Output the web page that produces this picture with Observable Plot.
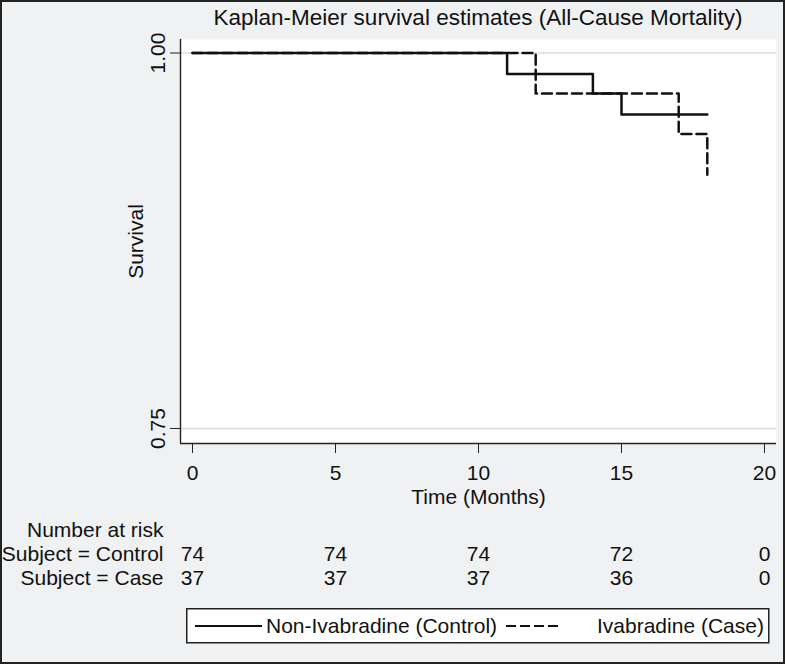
<!DOCTYPE html>
<html>
<head>
<meta charset="utf-8">
<script src="https://cdn.jsdelivr.net/npm/d3@7"></script>
<script src="https://cdn.jsdelivr.net/npm/@observablehq/plot@0.6"></script>
<style>
  html, body { margin: 0; padding: 0; }
  body { width: 785px; height: 664px; overflow: hidden; }
  #fig {
    position: relative; width: 785px; height: 664px;
    background: #eff1f3; box-shadow: inset 0 0 0 2px #222;
    font-family: "Liberation Sans", Arial, sans-serif; color: #111;
  }
  #title {
    position: absolute; left: 180px; top: 7px; width: 596px;
    text-align: center; font-size: 22.5px; line-height: 22.5px; white-space: nowrap;
  }
  #main { position: absolute; left: 0; top: 39px; }
  #risk { position: absolute; left: 0; top: 508px; }
  #legend { position: absolute; left: 186px; top: 608px; }
</style>
</head>
<body>
<div id="fig">
  <div id="title">Kaplan-Meier survival estimates (All-Cause Mortality)</div>
  <div id="main"></div>
  <div id="risk"></div>
  <div id="legend"></div>
</div>
<script>
// ---- data ----
const timeTicks = [0, 5, 10, 15, 20];
const survTicks = [0.75, 1.00];
const groups = ["Control", "Case"];
const seriesNames = ["Non-Ivabradine (Control)", "Ivabradine (Case)"];

const controlTime = [0, 11, 14, 15, 18];
const controlSurv = [1.000, 0.986, 0.973, 0.959, 0.959];
const caseTime = [0, 12, 17, 18];
const caseSurv = [1.000, 0.973, 0.946, 0.919];

const riskTime = [0, 5, 10, 15, 20];
const controlRisk = [74, 74, 74, 72, 0];
const caseRisk = [37, 37, 37, 36, 0];

// ---- build tables ----
const controlData = controlTime.map((t, i) => ({t, s: controlSurv[i]}));
const caseData = caseTime.map((t, i) => ({t, s: caseSurv[i]}));
const riskRows = [
  ...riskTime.map((t, i) => ({t, g: groups[0], n: controlRisk[i]})),
  ...riskTime.map((t, i) => ({t, g: groups[1], n: caseRisk[i]}))
];

const font = '"Liberation Sans", Arial, sans-serif';
const xDomain = [-0.42, 20.42];
const yDomain = [0.74, 1.009];
const baseStyle = {fontFamily: font, fontSize: "21px", color: "#111", background: "none", overflow: "visible"};

const main = Plot.plot({
  width: 785, height: 469,
  marginLeft: 180, marginRight: 9, marginTop: 0, marginBottom: 65,
  style: baseStyle,
  x: {domain: xDomain},
  y: {domain: yDomain},
  marks: [
    Plot.frame({fill: "white", stroke: "none"}),
    Plot.gridY(survTicks, {stroke: "#dcdcdc", strokeOpacity: 1, strokeWidth: 1.5}),
    Plot.axisY(survTicks, {
      anchor: "left", tickSize: 10, tickPadding: 6, tickRotate: -90,
      tickFormat: d3.format(".2f"), stroke: "#222",
      label: "Survival", labelAnchor: "center", labelArrow: "none", labelOffset: 52
    }),
    Plot.axisX(timeTicks, {
      anchor: "bottom", tickSize: 10, tickPadding: 12, stroke: "#222",
      label: "Time (Months)", labelAnchor: "center", labelArrow: "none", labelOffset: 60
    }),
    Plot.ruleX([xDomain[0]], {stroke: "#222", strokeWidth: 1.4}),
    Plot.ruleY([yDomain[0]], {stroke: "#222", strokeWidth: 1.4}),
    Plot.line(caseData, {x: "t", y: "s", curve: "step-after", stroke: "#111", strokeWidth: 2.5, strokeDasharray: "10,5"}),
    Plot.line(controlData, {x: "t", y: "s", curve: "step-after", stroke: "#111", strokeWidth: 2.5})
  ]
});
document.getElementById("main").appendChild(main);

const risk = Plot.plot({
  width: 785, height: 90,
  marginLeft: 180, marginRight: 9, marginTop: 10, marginBottom: 8,
  style: baseStyle,
  x: {domain: xDomain, axis: null},
  y: {type: "band", domain: ["Number at risk", ...groups], padding: 0},
  marks: [
    Plot.axisY({anchor: "left", tickSize: 0, tickPadding: 17, label: null,
      tickFormat: d => d === "Number at risk" ? d : `Subject = ${d}`}),
    Plot.text(riskRows, {x: "t", y: "g", text: "n", fill: "#111"})
  ]
});
document.getElementById("risk").appendChild(risk);

// ---- legend ----
const ns = "http://www.w3.org/2000/svg";
const lg = d3.select("#legend").append("svg")
  .attr("xmlns", ns).attr("width", 584).attr("height", 36)
  .style("font-family", font).style("font-size", "21px");
lg.append("rect").attr("x", 0.75).attr("y", 0.75).attr("width", 582).attr("height", 34)
  .attr("fill", "white").attr("stroke", "#222").attr("stroke-width", 1.5);
const items = [
  {name: seriesNames[0], x0: 9, x1: 76, tx: 80, dash: null},
  {name: seriesNames[1], x0: 320, x1: 372, tx: 411, dash: "10,4"}
];
items.forEach(it => {
  lg.append("line").attr("x1", it.x0).attr("x2", it.x1).attr("y1", 18).attr("y2", 18)
    .attr("stroke", "#111").attr("stroke-width", 2).attr("stroke-dasharray", it.dash);
  lg.append("text").attr("x", it.tx).attr("y", 18).attr("dy", "0.35em").attr("fill", "#111").text(it.name);
});
</script>
</body>
</html>
